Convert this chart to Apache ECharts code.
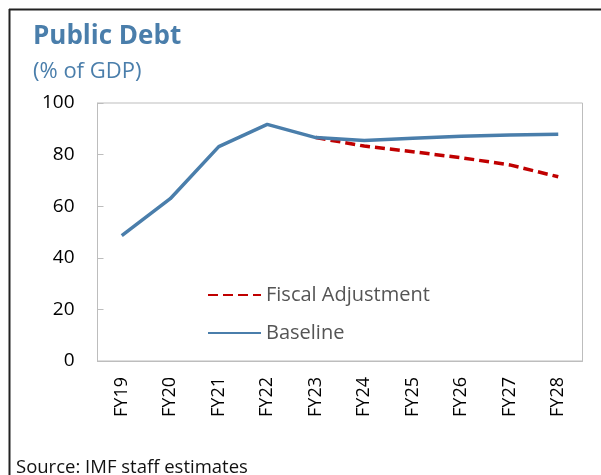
<!DOCTYPE html>
<html><head><meta charset="utf-8">
<script src="https://cdn.jsdelivr.net/npm/echarts@6/dist/echarts.min.js"></script>
<style>html,body{margin:0;padding:0;background:#fff}#c{width:601px;height:475px}</style>
</head><body><div id="c"></div>
<script>
const categories = ['FY19','FY20','FY21','FY22','FY23','FY24','FY25','FY26','FY27','FY28'];
const baseline = [48.6, 62.9, 83.1, 91.7, 86.6, 85.5, 86.3, 87.1, 87.6, 87.9];
const fiscalAdjustment = [null, null, null, null, 86.6, 83.3, 81.1, 78.8, 76.0, 71.4];
const yTicks = [0, 20, 40, 60, 80, 100];

const font = '"Open Sans", "Noto Sans", sans-serif';
const chart = echarts.init(document.getElementById('c'), null, {renderer: 'canvas'});
chart.setOption({
  animation: false,
  textStyle: {fontFamily: font},
  title: [
    {text: 'Public Debt', left: 28, top: 19, textStyle: {fontFamily: font, fontSize: 26, fontWeight: 'bold', color: '#4A7EAB'}},
    {text: '(% of GDP)', left: 28, top: 56, textStyle: {fontFamily: font, fontSize: 22, fontWeight: 'normal', color: '#4A7EAB'}},
    {text: 'Source: IMF staff estimates', left: 11, top: 453, textStyle: {fontFamily: font, fontSize: 18.5, fontWeight: 'normal', color: '#111'}}
  ],
  graphic: [
    {type: 'line', shape: {x1: 9, y1: 9.5, x2: 601, y2: 9.5}, style: {stroke: '#222', lineWidth: 2}},
    {type: 'line', shape: {x1: 9.5, y1: 9, x2: 9.5, y2: 475}, style: {stroke: '#222', lineWidth: 2}}
  ],
  grid: {left: 97.5, right: 18.5, top: 103, bottom: 114, show: true, borderColor: '#BDBDBD', borderWidth: 1},
  legend: {
    orient: 'vertical', left: 202, top: 280, itemWidth: 53, itemHeight: 14, itemGap: 18,
    itemStyle: {opacity: 0},
    textStyle: {fontFamily: font, fontSize: 20, color: '#555'},
    data: ['Fiscal Adjustment', 'Baseline']
  },
  xAxis: {
    type: 'category', data: categories, boundaryGap: true,
    axisLine: {lineStyle: {color: '#BDBDBD'}},
    axisTick: {inside: true, length: 7, lineStyle: {color: '#BDBDBD'}},
    axisLabel: {rotate: 90, margin: 16, fontSize: 18, color: '#000', fontFamily: font}
  },
  yAxis: {
    type: 'value', min: yTicks[0], max: yTicks[yTicks.length - 1], interval: 20,
    splitLine: {show: false},
    axisLine: {show: true, lineStyle: {color: '#BDBDBD'}},
    axisTick: {show: true, inside: true, length: 6, lineStyle: {color: '#BDBDBD'}},
    axisLabel: {margin: 23, fontSize: 19, color: '#000', fontFamily: font}
  },
  series: [
    {name: 'Fiscal Adjustment', type: 'line', data: fiscalAdjustment, symbol: 'none', connectNulls: false,
     lineStyle: {color: '#C00000', width: 3.5, type: [10, 5]}, itemStyle: {color: '#C00000'}},
    {name: 'Baseline', type: 'line', data: baseline, symbol: 'none',
     lineStyle: {color: '#4A7EAB', width: 3.5}, itemStyle: {color: '#4A7EAB'}}
  ]
});
</script></body></html>
